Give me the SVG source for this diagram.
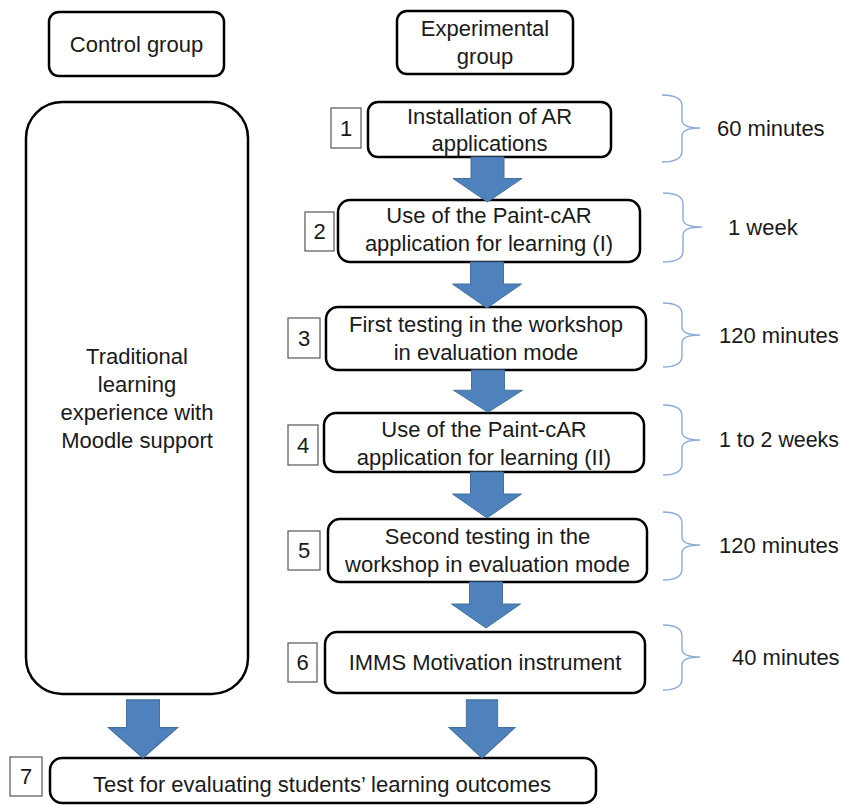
<svg xmlns="http://www.w3.org/2000/svg" width="843" height="805" viewBox="0 0 843 805">
  <style>
    .box { fill: #ffffff; stroke: #000000; stroke-width: 2.5; }
    .num { fill: #ffffff; stroke: #555555; stroke-width: 1.2; }
    .t { font-family: "Liberation Sans", Arial, sans-serif; font-size: 22px; fill: #1a1a1a; }
    .c { text-anchor: middle; }
    .arrow { fill: #4f81bd; stroke: #41719c; stroke-width: 1; }
    .brace { fill: none; stroke: #8eaad6; stroke-width: 1.4; }
  </style>
  <defs>
    <!-- block arrow pointing down, origin at the top centre of the shaft -->
    <path id="blk" d="M -16.5 0 L 16.5 0 L 16.5 22 L 34.5 22 L 0 46 L -34.5 22 L -16.5 22 Z"/>
  </defs>

  <!-- column headers -->
  <g id="control-header">
    <rect class="box" x="49" y="12" width="175" height="64" rx="10"/>
    <text class="t c" x="136.5" y="52">Control group</text>
  </g>
  <g id="experimental-header">
    <rect class="box" x="397" y="11" width="176" height="63" rx="10"/>
    <text class="t c" x="485" y="36">Experimental</text>
    <text class="t c" x="485" y="64">group</text>
  </g>

  <!-- control group -->
  <g id="control-block">
    <rect class="box" x="26" y="102" width="222" height="592" rx="36"/>
    <text class="t c" x="137" y="364">Traditional</text>
    <text class="t c" x="137" y="392">learning</text>
    <text class="t c" x="137" y="420">experience with</text>
    <text class="t c" x="137" y="448">Moodle support</text>
  </g>

  <!-- experimental steps -->
  <g id="step1">
    <rect class="num" x="331" y="108" width="30" height="40"/>
    <text class="t c" x="346" y="136">1</text>
    <rect class="box" x="368" y="102" width="243" height="55" rx="10"/>
    <text class="t c" x="489.5" y="124">Installation of AR</text>
    <text class="t c" x="489.5" y="151">applications</text>
  </g>
  <g id="step2">
    <rect class="num" x="305" y="212" width="29" height="39"/>
    <text class="t c" x="319.5" y="239">2</text>
    <rect class="box" x="338" y="200" width="302" height="62" rx="12"/>
    <text class="t c" x="489" y="223">Use of the Paint-cAR</text>
    <text class="t c" x="489" y="251">application for learning (I)</text>
  </g>
  <g id="step3">
    <rect class="num" x="288" y="318" width="32" height="40"/>
    <text class="t c" x="304" y="346">3</text>
    <rect class="box" x="326" y="307" width="320" height="63" rx="12"/>
    <text class="t c" x="486" y="332">First testing in the workshop</text>
    <text class="t c" x="486" y="360">in evaluation mode</text>
  </g>
  <g id="step4">
    <rect class="num" x="288" y="425" width="30" height="40"/>
    <text class="t c" x="303" y="453">4</text>
    <rect class="box" x="324" y="413" width="320" height="59" rx="12"/>
    <text class="t c" x="484" y="437">Use of the Paint-cAR</text>
    <text class="t c" x="484" y="465">application for learning (II)</text>
  </g>
  <g id="step5">
    <rect class="num" x="288" y="531" width="32" height="39"/>
    <text class="t c" x="304" y="558">5</text>
    <rect class="box" x="328" y="519" width="319" height="63" rx="12"/>
    <text class="t c" x="487.5" y="544">Second testing in the</text>
    <text class="t c" x="487.5" y="572">workshop in evaluation mode</text>
  </g>
  <g id="step6">
    <rect class="num" x="288" y="643" width="29" height="39"/>
    <text class="t c" x="302.5" y="670">6</text>
    <rect class="box" x="325" y="632" width="320" height="61" rx="12"/>
    <text class="t c" x="485" y="670">IMMS Motivation instrument</text>
  </g>
  <g id="step7">
    <rect class="num" x="10" y="757" width="32" height="39"/>
    <text class="t c" x="26" y="784">7</text>
    <rect class="box" x="50" y="758" width="546" height="45" rx="12"/>
    <text class="t c" x="322" y="792">Test for evaluating students’ learning outcomes</text>
  </g>

  <!-- durations -->
  <g id="durations">
    <path class="brace" d="M 662 95 Q 682 95 682 106 L 682 120 Q 682 128 700 128 Q 682 128 682 136 L 682 151 Q 682 162 662 162"/>
    <text class="t" x="717" y="136">60 minutes</text>
    <path class="brace" d="M 663 193 Q 683 193 683 204 L 683 219 Q 683 227 702 227 Q 683 227 683 235 L 683 251 Q 683 262 663 262"/>
    <text class="t" x="728" y="235">1 week</text>
    <path class="brace" d="M 663 303 Q 682 303 682 314 L 682 327 Q 682 335 700 335 Q 682 335 682 343 L 682 356 Q 682 367 663 367"/>
    <text class="t" x="719" y="343">120 minutes</text>
    <path class="brace" d="M 663 405 Q 682 405 682 416 L 682 432 Q 682 440 700 440 Q 682 440 682 448 L 682 464 Q 682 475 663 475"/>
    <text class="t" x="719" y="447" textLength="120" lengthAdjust="spacingAndGlyphs">1 to 2 weeks</text>
    <path class="brace" d="M 663 512 Q 682 512 682 523 L 682 537 Q 682 545 700 545 Q 682 545 682 553 L 682 569 Q 682 580 663 580"/>
    <text class="t" x="719" y="553">120 minutes</text>
    <path class="brace" d="M 663 625 Q 682 625 682 636 L 682 649 Q 682 657 700 657 Q 682 657 682 665 L 682 679 Q 682 690 663 690"/>
    <text class="t" x="732" y="665">40 minutes</text>
  </g>

  <!-- flow arrows -->
  <g id="connectors">
    <use href="#blk" class="arrow" transform="translate(487.5 157) scale(1 0.978)"/>
    <use href="#blk" class="arrow" transform="translate(487 262)"/>
    <use href="#blk" class="arrow" transform="translate(488 370) scale(1 0.92)"/>
    <use href="#blk" class="arrow" transform="translate(487 472)"/>
    <use href="#blk" class="arrow" transform="translate(486 582)"/>
    <use href="#blk" class="arrow" transform="translate(143 700) scale(1 1.26)"/>
    <use href="#blk" class="arrow" transform="translate(482 700) scale(0.95 1.26)"/>
  </g>
</svg>
